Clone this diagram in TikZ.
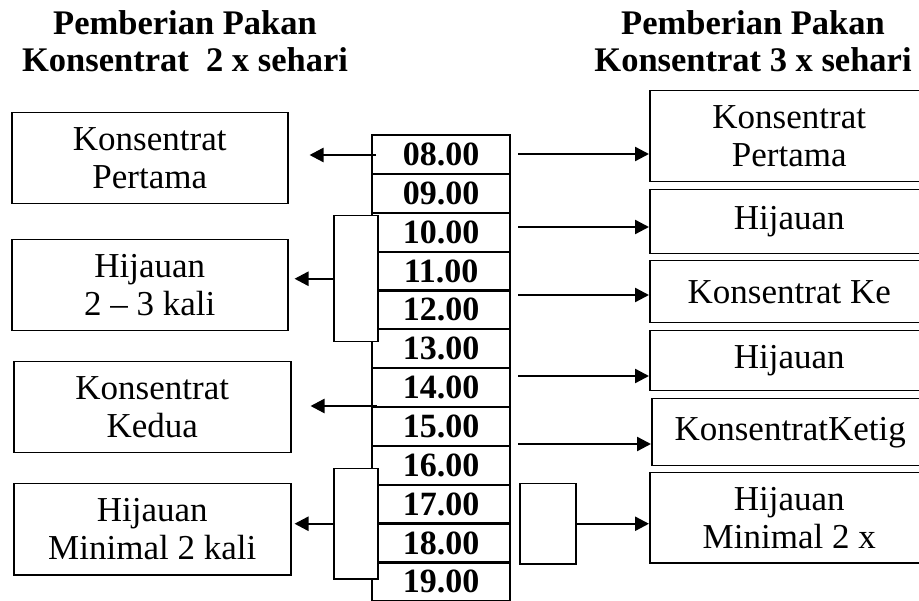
\documentclass[tikz,border=0pt]{standalone}
\usepackage{fontspec}
\setmainfont{Liberation Serif}
\usetikzlibrary{arrows.meta,calc}
\begin{document}
\begin{tikzpicture}[x=1pt,y=-1pt,
  box/.style={draw=black, line width=1.5pt, fill=white, inner sep=0pt, anchor=north west, align=center,
    font=\fontsize{35}{38}\selectfont},
  cell/.style={draw=black, line width=2.2pt, inner sep=0pt, anchor=north west, minimum width=138pt,
    minimum height=38.85pt, font=\fontsize{34}{38}\selectfont\bfseries},
  brk/.style={draw=black, line width=1.5pt, fill=white, inner sep=0pt, anchor=north west},
  arr/.style={line width=2.4pt, -{Triangle[length=14pt,width=14pt]}},
  ttl/.style={align=center, font=\fontsize{34.5}{37}\selectfont\bfseries, inner sep=0pt}]
\useasboundingbox (0,0) rectangle (919,601);
% titles
\node[ttl] (tl) at (185,41) {Pemberian Pakan\\Konsentrat\ \ 2 x sehari};
\node[ttl] (tr) at (753,41) {Pemberian Pakan\\Konsentrat 3 x sehari};
% time column
\foreach \t [count=\i from 0] in {08,09,10,11,12,13,14,15,16,17,18,19}
  \node[cell] (t\t) at (371,134+\i*38.85) {\t.00};
% brackets
\node[brk, minimum width=44pt, minimum height=126pt] (b1) at (333,215) {};
\node[brk, minimum width=44pt, minimum height=110pt] (b2) at (333,468) {};
\node[brk, minimum width=56pt, minimum height=80pt] (sb) at (519,483) {};
% left boxes
\node[box, minimum width=276pt, minimum height=91pt] (k1) at (11,112) {Konsentrat\\Pertama};
\node[box, minimum width=276pt, minimum height=91pt] (k2) at (11,239) {Hijauan\\2 – 3 kali};
\node[box, minimum width=277pt, minimum height=91pt] (k3) at (13,361) {Konsentrat\\Kedua};
\node[box, minimum width=277pt, minimum height=91pt] (k4) at (13,483) {Hijauan\\Minimal 2 kali};
% right boxes
\node[box, minimum width=279pt, minimum height=91pt] (r1) at (649,90) {Konsentrat\\Pertama};
\node[box, minimum width=279pt, minimum height=64pt] (r2) at (649,189) {Hijauan};
\node[box, minimum width=279pt, minimum height=62pt] (r3) at (649,260) {Konsentrat Ke};
\node[box, minimum width=279pt, minimum height=60pt] (r4) at (649,330) {Hijauan};
\node[box, minimum width=277pt, minimum height=67pt] (r5) at (651,398) {KonsentratKetig};
\node[box, minimum width=279pt, minimum height=90pt] (r6) at (649,472) {Hijauan\\Minimal 2 x};
% left arrows
\coordinate (la1) at (376,155);
\coordinate (la3) at (377,406);
\draw[arr, shorten >=21pt] (la1) -- (la1 -| k1.east);
\draw[arr, shorten >=6pt] (b1.west) -- (b1.west -| k2.east);
\draw[arr, shorten >=19pt] (la3) -- (la3 -| k3.east);
\draw[arr, shorten >=3pt] (b2.west) -- (b2.west -| k4.east);
% right arrows
\coordinate (ra1) at (518,154);
\coordinate (ra2) at (518,227);
\coordinate (ra3) at (518,295);
\coordinate (ra4) at (518,376);
\coordinate (ra5) at (518,444);
\draw[arr] (ra1) -- (ra1 -| r1.west);
\draw[arr] (ra2) -- (ra2 -| r2.west);
\draw[arr] (ra3) -- (ra3 -| r3.west);
\draw[arr] (ra4) -- (ra4 -| r4.west);
\draw[arr] (ra5) -- (ra5 -| r5.west);
\draw[arr] (sb.east) -- (sb.east -| r6.west);
\end{tikzpicture}
\end{document}
